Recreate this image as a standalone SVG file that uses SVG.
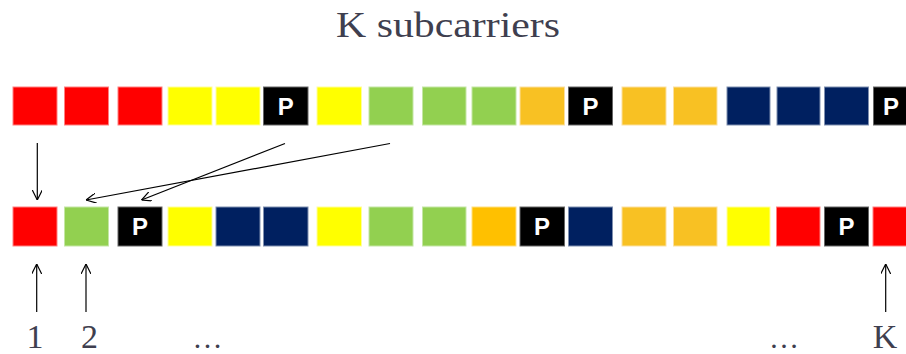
<svg xmlns="http://www.w3.org/2000/svg" width="906" height="354" viewBox="0 0 906 354">
<style>
.b{stroke-width:1}
.r{fill:#FF0000;stroke:#FF8080}
.y{fill:#FFFF00;stroke:#FFFF99}
.g{fill:#92D050;stroke:#C4E6A4}
.o{fill:#F8C123;stroke:#FBE0A0}
.o2{fill:#FFC000;stroke:#FFE080}
.n{fill:#002060;stroke:#7F8FAF}
.p{fill:#000000;stroke:#666666}
.pt{font-family:"Liberation Sans",Arial,sans-serif;font-weight:bold;font-size:24px;fill:#FFFFFF;text-anchor:middle}
.lbl{font-family:"Liberation Serif","Times New Roman",serif;fill:#3F3F4F}
.ar{stroke:#000000;stroke-width:1.2;fill:none}
</style>
<defs>
<marker id="ah" viewBox="0 0 10 10" refX="10" refY="5" markerWidth="10" markerHeight="10" markerUnits="userSpaceOnUse" orient="auto">
<path d="M0,0 L10,5 L0,10" fill="none" stroke="#000" stroke-width="1.2"/>
</marker>
</defs>
<text class="lbl" x="448" y="37" font-size="36" text-anchor="middle" textLength="224" lengthAdjust="spacingAndGlyphs">K subcarriers</text>
<g id="top-row">
<g id="t1"><rect class="b r" x="13" y="87" width="44" height="38"/></g>
<g id="t2"><rect class="b r" x="64.5" y="87" width="44" height="38"/></g>
<g id="t3"><rect class="b r" x="118" y="87" width="44" height="38"/></g>
<g id="t4"><rect class="b y" x="168" y="87" width="44" height="38"/></g>
<g id="t5"><rect class="b y" x="216" y="87" width="44" height="38"/></g>
<g id="t6"><rect class="b p" x="263.5" y="87" width="44.5" height="38"/><text class="pt" x="285.8" y="115">P</text></g>
<g id="t7"><rect class="b y" x="317" y="87" width="44.5" height="38"/></g>
<g id="t8"><rect class="b g" x="369" y="87" width="44" height="38"/></g>
<g id="t9"><rect class="b g" x="422.5" y="87" width="43.5" height="38"/></g>
<g id="t10"><rect class="b g" x="472" y="87" width="44" height="38"/></g>
<g id="t11"><rect class="b o" x="520" y="87" width="44.5" height="38"/></g>
<g id="t12"><rect class="b p" x="568.5" y="87" width="44" height="38"/><text class="pt" x="590.5" y="115">P</text></g>
<g id="t13"><rect class="b o" x="622" y="87" width="44" height="38"/></g>
<g id="t14"><rect class="b o" x="673.5" y="87" width="43.5" height="38"/></g>
<g id="t15"><rect class="b n" x="727" y="87" width="43" height="38"/></g>
<g id="t16"><rect class="b n" x="777" y="87" width="43" height="38"/></g>
<g id="t17"><rect class="b n" x="824.5" y="87" width="44" height="38"/></g>
<g id="t18"><rect class="b p" x="873.5" y="87" width="44" height="38"/><text class="pt" x="891" y="115">P</text></g>
</g>
<g id="bottom-row">
<g id="s1"><rect class="b r" x="13" y="207" width="44" height="39"/></g>
<g id="s2"><rect class="b g" x="64.5" y="207" width="44" height="39"/></g>
<g id="s3"><rect class="b p" x="118" y="207" width="44" height="39"/><text class="pt" x="140" y="235">P</text></g>
<g id="s4"><rect class="b y" x="168" y="207" width="44" height="39"/></g>
<g id="s5"><rect class="b n" x="216" y="207" width="44" height="39"/></g>
<g id="s6"><rect class="b n" x="263.5" y="207" width="44.5" height="39"/></g>
<g id="s7"><rect class="b y" x="317" y="207" width="44.5" height="39"/></g>
<g id="s8"><rect class="b g" x="369" y="207" width="44" height="39"/></g>
<g id="s9"><rect class="b g" x="422.5" y="207" width="43.5" height="39"/></g>
<g id="s10"><rect class="b o2" x="472" y="207" width="44" height="39"/></g>
<g id="s11"><rect class="b p" x="520" y="207" width="44.5" height="39"/><text class="pt" x="542" y="235">P</text></g>
<g id="s12"><rect class="b n" x="568.5" y="207" width="44" height="39"/></g>
<g id="s13"><rect class="b o" x="622" y="207" width="44" height="39"/></g>
<g id="s14"><rect class="b o" x="673.5" y="207" width="43.5" height="39"/></g>
<g id="s15"><rect class="b y" x="727" y="207" width="43" height="39"/></g>
<g id="s16"><rect class="b r" x="776.5" y="207" width="43.5" height="39"/></g>
<g id="s17"><rect class="b p" x="824.5" y="207" width="44" height="39"/><text class="pt" x="846.5" y="235">P</text></g>
<g id="s18"><rect class="b r" x="873" y="207" width="44" height="39"/></g>
</g>
<g id="connectors">
<line class="ar" x1="37.3" y1="143" x2="37.3" y2="200" marker-end="url(#ah)"/>
<line class="ar" x1="285" y1="143.5" x2="141.5" y2="200" marker-end="url(#ah)"/>
<line class="ar" x1="390" y1="143.5" x2="86" y2="200" marker-end="url(#ah)"/>
<line class="ar" x1="36.7" y1="312" x2="36.7" y2="264" marker-end="url(#ah)"/>
<line class="ar" x1="86" y1="312" x2="86" y2="264" marker-end="url(#ah)"/>
<line class="ar" x1="885.7" y1="312" x2="885.7" y2="264" marker-end="url(#ah)"/>
</g>
<g id="labels">
<text class="lbl" x="35" y="348" font-size="34" text-anchor="middle">1</text>
<text class="lbl" x="89.5" y="348" font-size="34" text-anchor="middle">2</text>
<text class="lbl" x="207.5" y="348" font-size="30" text-anchor="middle">…</text>
<text class="lbl" x="784" y="348" font-size="30" text-anchor="middle">…</text>
<text class="lbl" x="885" y="348" font-size="34" text-anchor="middle">K</text>
</g>
</svg>
